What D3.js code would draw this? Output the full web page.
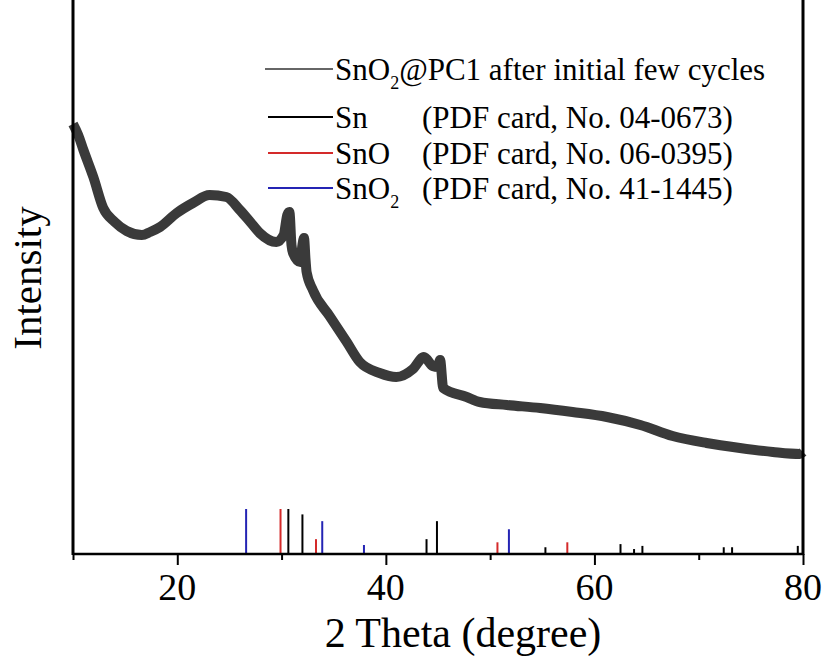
<!DOCTYPE html>
<html>
<head>
<meta charset="utf-8">
<script src="https://cdn.jsdelivr.net/npm/d3@7"></script>
<style>
  html, body { margin: 0; padding: 0; background: #fff; }
  svg { display: block; }
  text { font-family: "Liberation Serif", "Times New Roman", serif; fill: #000; }
</style>
</head>
<body>
<svg id="chart" width="827" height="659"></svg>
<script>
// ---------------- DATA ----------------
// XRD pattern (2θ in degrees, intensity in arbitrary units)
const twoTheta = [10.0, 10.5, 11.0, 11.95, 12.9, 14.0, 15.15, 16.6, 17.4, 18.35, 19.95, 21.5, 23.1, 24.7,
  26.0, 27.0, 27.9, 29.5, 30.2, 30.55, 30.75, 30.95, 31.1, 31.8, 32.0, 32.15, 32.3, 32.4, 33.0, 34.6,
  36.25, 37.5, 39.4, 41.0, 42.6, 43.65, 44.5, 45.0, 45.2, 45.5, 47.75, 49.0, 51.6, 54.8, 57.9, 61.2,
  64.4, 67.5, 70.75, 73.95, 77.1, 79.7, 80.0];
const intensity = [860, 838, 808, 754, 692, 664, 646, 638, 644, 654, 682, 702, 718, 714,
  688, 664, 642, 624, 638, 678, 684, 618, 602, 584, 618, 632, 588, 564, 528, 476,
  424, 384, 362, 354, 370, 394, 376, 374, 388, 332, 314, 304, 298, 292, 284, 274,
  258, 236, 222, 212, 204, 200, 204];

// Reference patterns (peak position in 2θ, relative intensity)
const snPos  = [30.65, 32.0, 43.9, 44.9, 55.3, 62.5, 63.8, 64.6, 72.4, 73.2, 79.5];
const snInt  = [100, 88, 33, 73, 15, 22, 11, 18, 15, 15, 18];
const snoPos = [29.9, 33.3, 50.7, 57.4];
const snoInt = [100, 33, 26, 26];
const sno2Pos = [26.6, 33.9, 37.9, 51.8];
const sno2Int = [100, 73, 20, 55];

const xTicksMajor = [20, 40, 60, 80];
const xTicksMinor = [10, 30, 50, 70];

const legendLabels = ["SnO₂@PC1 after initial few cycles", "Sn", "SnO", "SnO₂"];
const legendCards = ["", "(PDF card, No. 04-0673)", "(PDF card, No. 06-0395)", "(PDF card, No. 41-1445)"];

const xTitle = "2 Theta (degree)";
const yTitle = "Intensity";

// ---------------- LAYOUT ----------------
const svg = d3.select("#chart");
const L = 73, R = 803, B = 554, T = 0;

const x = d3.scaleLinear().domain([10, 80]).range([L, R]);
const y = d3.scaleLinear().domain([0, 1000]).range([B, 54]);
const yStick = d3.scaleLinear().domain([0, 100]).range([B, 509]);

const colSn = "#000000", colSnO = "#d42a2a", colSnO2 = "#2424b4";

// reference sticks
function sticks(pos, vals, color) {
  svg.append("g").selectAll("line").data(pos).join("line")
    .attr("x1", d => x(d)).attr("x2", d => x(d))
    .attr("y1", yStick(0)).attr("y2", (d, i) => yStick(vals[i]))
    .attr("stroke", color).attr("stroke-width", 2);
}
sticks(sno2Pos, sno2Int, colSnO2);
sticks(snoPos, snoInt, colSnO);
sticks(snPos, snInt, colSn);

// XRD curve
const pts = twoTheta.map((t, i) => [t, intensity[i]]);
const line = d3.line().x(d => x(d[0])).y(d => y(d[1])).curve(d3.curveMonotoneX);
svg.append("path").datum(pts)
  .attr("d", line)
  .attr("fill", "none")
  .attr("stroke", "#3a3a3a")
  .attr("stroke-width", 10)
  .attr("stroke-linejoin", "round")
  .attr("stroke-linecap", "butt");

// axes
const xAxisMajor = d3.axisBottom(x).tickValues(xTicksMajor).tickSize(11).tickFormat(d3.format("d"));
const gx = svg.append("g").attr("transform", `translate(0,${B})`).call(xAxisMajor);
gx.select(".domain").remove();
gx.selectAll(".tick line").attr("stroke", "#000").attr("stroke-width", 2);
gx.selectAll(".tick text").remove();

const xAxisMinor = d3.axisBottom(x).tickValues(xTicksMinor).tickSize(6).tickFormat("");
const gxm = svg.append("g").attr("transform", `translate(0,${B})`).call(xAxisMinor);
gxm.select(".domain").remove();
gxm.selectAll(".tick line").attr("stroke", "#000").attr("stroke-width", 2);

// tick labels
svg.append("g").selectAll("text").data(xTicksMajor).join("text")
  .attr("x", d => x(d)).attr("y", 600)
  .attr("text-anchor", "middle")
  .attr("font-size", 38)
  .text(d => d);

// frame lines
svg.append("line").attr("x1", L).attr("x2", R).attr("y1", B).attr("y2", B)
  .attr("stroke", "#000").attr("stroke-width", 2.5);
svg.append("line").attr("x1", L).attr("x2", L).attr("y1", T).attr("y2", B + 1)
  .attr("stroke", "#000").attr("stroke-width", 3);
svg.append("line").attr("x1", R).attr("x2", R).attr("y1", T).attr("y2", B + 1)
  .attr("stroke", "#000").attr("stroke-width", 3);

// axis titles
svg.append("text")
  .attr("x", 463).attr("y", 647)
  .attr("text-anchor", "middle").attr("font-size", 42)
  .text(xTitle);
svg.append("text")
  .attr("transform", `translate(41,278) rotate(-90)`)
  .attr("text-anchor", "middle").attr("font-size", 41)
  .text(yTitle);

// legend
const legY = [69, 117, 153, 188];
const legCol = ["#333333", colSn, colSnO, colSnO2];
const legW = [1.6, 2, 2, 2];
const legX1 = [265, 268, 268, 268];
const lg = svg.append("g");
legY.forEach((ly, i) => {
  lg.append("line").attr("x1", legX1[i]).attr("x2", 333).attr("y1", ly).attr("y2", ly)
    .attr("stroke", legCol[i]).attr("stroke-width", legW[i]);
  const t = lg.append("text")
    .attr("x", 335).attr("y", ly + 11)
    .attr("font-size", 31);
  const lab = legendLabels[i];
  const idx = lab.indexOf("₂");
  if (idx >= 0) {
    t.append("tspan").text(lab.slice(0, idx));
    t.append("tspan").attr("font-size", 18).attr("dy", 9).text("2");
    t.append("tspan").attr("dy", -9).text(lab.slice(idx + 1));
  } else {
    t.text(lab);
  }
  if (legendCards[i]) {
    lg.append("text")
      .attr("x", 422).attr("y", ly + 11)
      .attr("font-size", 31)
      .text(legendCards[i]);
  }
});
</script>
</body>
</html>
